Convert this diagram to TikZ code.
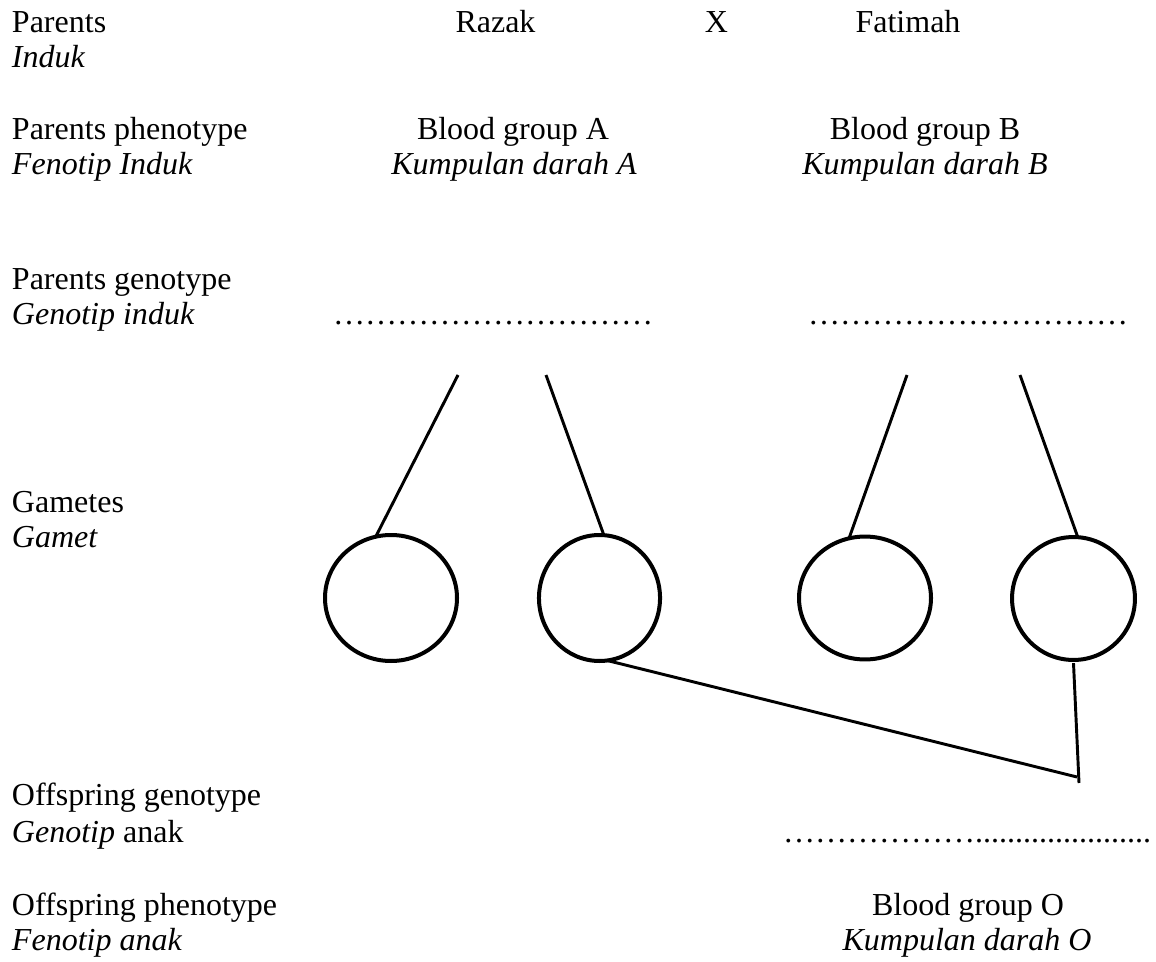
\documentclass[tikz,border=0pt]{standalone}
\usepackage{fontspec}
\setmainfont{Liberation Serif}
\usetikzlibrary{shapes.geometric}
\tikzset{
  txt/.style={inner sep=0pt, outer sep=0pt, font=\fontsize{12}{13.8}\selectfont},
  lbl/.style={txt, anchor=base west},
  ctr/.style={txt, anchor=base},
  gamete/.style={draw, ellipse, line width=1.5pt, inner sep=0pt, outer sep=0pt},
  link/.style={line width=1.1pt},
}
\begin{document}
\begin{tikzpicture}[x=0.375pt, y=-0.375pt]
\useasboundingbox (0,0) rectangle (1156,962);
% left labels
\node[lbl] (parents) at (12,33) {Parents};
\node[lbl] (induk) at (12,68) {\itshape Induk};
\node[lbl] (pphen) at (12,140) {Parents phenotype};
\node[lbl] (fenind) at (12,175) {\itshape Fenotip Induk};
\node[lbl] (pgen) at (12,290) {Parents genotype};
\node[lbl] (genind) at (12,325) {\itshape Genotip induk};
\node[lbl] (gametes) at (12,512) {Gametes};
\node[lbl] (gamet) at (12,547) {\itshape Gamet};
\node[lbl] (ogen) at (12,805) {Offspring genotype};
\node[lbl] (genanak) at (12,842) {\itshape Genotip\upshape{} anak};
\node[lbl] (ophen) at (12,915) {Offspring phenotype};
\node[lbl] (fenanak) at (12,950) {\itshape Fenotip anak};
% top row
\node[ctr] (razak) at (495.5,33) {Razak};
\node[ctr] (cross) at (716.5,33) {X};
\node[ctr] (fatimah) at (908,33) {Fatimah};
\node[ctr] (bga) at (513,140) {Blood group A};
\node[ctr] (kda) at (514,175) {\itshape Kumpulan darah A};
\node[ctr] (bgb) at (925,140) {Blood group B};
\node[ctr] (kdb) at (925,175) {\itshape Kumpulan darah B};
% dotted answer lines
\node[lbl] (dotsa) at (333,325) {…………………………};
\node[lbl] (dotsb) at (808,325) {…………………………};
\node[lbl] (dotso) at (783,842) {………………......................};
\node[ctr] (bgo) at (968,915) {Blood group O};
\node[ctr] (kdo) at (967,950) {\itshape Kumpulan darah O};
% gametes
\node[gamete, minimum width=49.5pt, minimum height=47.25pt] (g1) at (391,598) {};
\node[gamete, minimum width=45.4pt, minimum height=47.25pt] (g2) at (599.5,598) {};
\node[gamete, minimum width=49.5pt, minimum height=46.1pt] (g3) at (865,598) {};
\node[gamete, minimum width=46.1pt, minimum height=46.1pt] (g4) at (1073.5,598.5) {};
% free ends of the lines
\coordinate (a1) at (458,375);
\coordinate (a2) at (546,375);
\coordinate (b1) at (907,375);
\coordinate (b2) at (1020,375);
\coordinate (j) at (1077,777);
\coordinate (jb) at (1079,783);
\draw[link] (a1) -- (g1.104);
\draw[link] (a2) -- (g2.86);
\draw[link] (b1) -- (g3.105);
\draw[link] (b2) -- (g4.86);
\draw[link] (g2.277) -- (j);
\draw[link] ([yshift=-1.2pt]g4.south) -- (jb);
\end{tikzpicture}
\end{document}
